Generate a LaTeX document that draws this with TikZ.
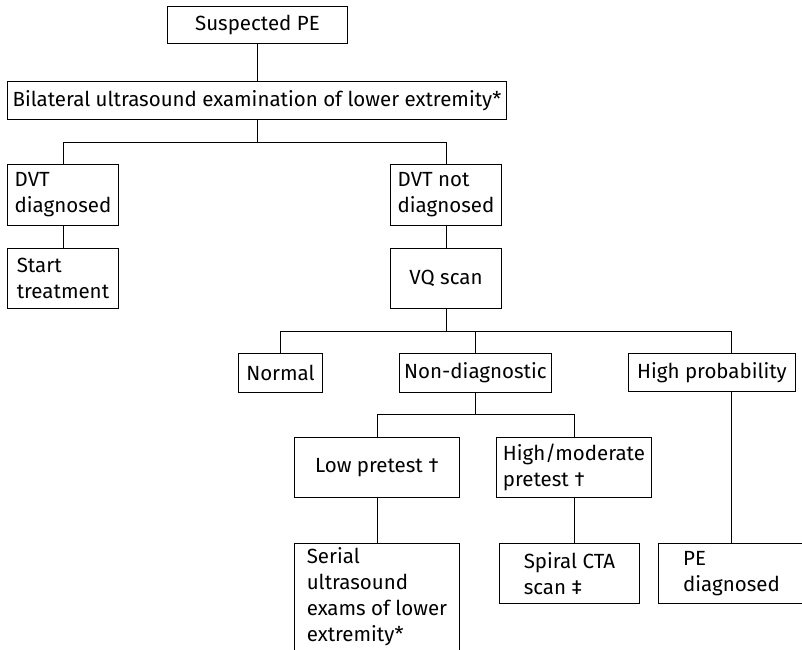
\documentclass[tikz,border=0pt]{standalone}
\usepackage{fontspec}
\setmainfont{Fira Sans}
\begin{document}
\begin{tikzpicture}[x=1pt,y=-1pt,
  box/.style={draw, line width=0.9pt, anchor=north west, inner sep=0pt, align=left,
    font=\fontsize{20.5}{26}\selectfont},
  conn/.style={line width=0.9pt}]
\useasboundingbox (0,0) rectangle (802,649);
\clip (0,0) rectangle (802,649);
\node[box, minimum width=180pt, minimum height=37pt] (sus) at (167,6) {Suspected PE};
\node[box, minimum width=499pt, minimum height=38pt] (bil) at (7,81) {Bilateral ultrasound examination of lower extremity*};
\node[box, minimum width=111pt, minimum height=61pt] (dvt) at (7,164) {DVT\\diagnosed};
\node[box, minimum width=111pt, minimum height=60pt] (start) at (7,248) {Start\\treatment};
\node[box, minimum width=111pt, minimum height=61pt] (notdvt) at (390,164) {DVT not\\diagnosed};
\node[box, minimum width=111pt, minimum height=60pt] (vq) at (390,248) {VQ scan};
\node[box, minimum width=84pt, minimum height=39pt] (normal) at (238,353) {Normal};
\node[box, minimum width=152pt, minimum height=39pt] (nondiag) at (399,353) {Non-diagnostic};
\node[box, minimum width=167pt, minimum height=38pt] (highprob) at (628,353) {High probability};
\node[box, minimum width=165pt, minimum height=60pt] (low) at (294,437) {Low pretest †};
\node[box, minimum width=155pt, minimum height=60pt] (himod) at (496,437) {High/moderate\\pretest †};
\node[box, minimum width=165pt, minimum height=116pt, text depth=13pt] (serial) at (294,543) {Serial\\ultrasound\\exams of lower\\extremity*};
\node[box, minimum width=140pt, minimum height=60pt] (spiral) at (499,543) {Spiral CTA\\scan ‡};
\node[box, minimum width=146pt, minimum height=60pt] (pediag) at (658,543) {PE\\diagnosed};
% connectors
\draw[conn] (sus.south) -- (sus.south |- bil.north);
\draw[conn] (bil.south) -- ++(0,23) coordinate (j1);
\draw[conn] (dvt.north) |- (j1) -| (notdvt.north);
\draw[conn] (dvt.south) -- (start.north);
\draw[conn] (notdvt.south) -- (vq.north);
\draw[conn] (vq.south) -- ++(0,23) coordinate (j2);
\draw[conn] (normal.north) |- (j2) -| (pediag.north |- highprob.north);
\draw[conn] (nondiag.north) -- (nondiag.north |- j2);
\draw[conn] (nondiag.south) -- ++(0,22) coordinate (j3);
\draw[conn] (low.north) |- (j3) -| (himod.north);
\draw[conn] (low.south) -- (serial.north);
\draw[conn] (himod.south) -- (himod.south |- spiral.north);
\draw[conn] (pediag.north |- highprob.south) -- (pediag.north);
\end{tikzpicture}
\end{document}
